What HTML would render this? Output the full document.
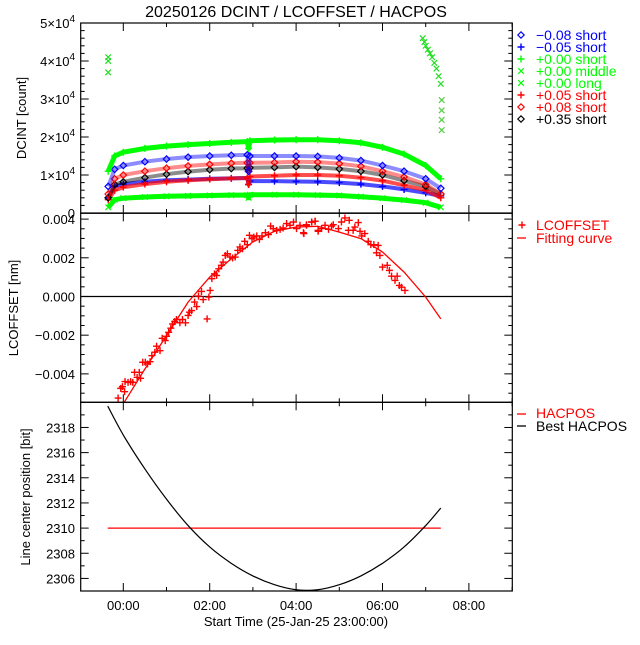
<!DOCTYPE html>
<html><head><meta charset="utf-8"><style>
html,body{margin:0;padding:0;background:#fff}
svg text{font-family:"Liberation Sans",sans-serif}
</style></head><body>
<svg id="c" width="640" height="640" viewBox="0 0 640 640" xmlns="http://www.w3.org/2000/svg">
<rect width="640" height="640" fill="#fff"/>
<text x="296" y="17" font-size="16" text-anchor="middle">20250126 DCINT / LCOFFSET / HACPOS</text>
<g id="g"></g>
</svg>
<script>
// ---- shared time axis ----
const xTickLabels = ["00:00","02:00","04:00","06:00","08:00"];
const xTickHours = [0,2,4,6,8];
// ---- panel 1: DCINT ----
const dcTimes = [-0.35,-0.2,0,0.5,1,1.5,2,2.5,2.87,2.9,2.93,3.5,4,4.5,5,5.5,6,6.5,7,7.35];
const dcBlueDiamond = [7000,11500,12500,13500,14200,14700,15000,15200,15300,11000,15000,15000,15000,14900,14500,13800,12500,11000,9000,6500];
const dcBluePlus = [4000,7000,7600,8200,8600,8800,9000,9100,9200,7500,8400,8400,8300,8200,8000,7600,7000,6200,5300,4500];
const dcGreenShort = [11000,15000,16000,17000,17600,18000,18300,18600,18800,17000,19000,19200,19300,19300,19000,18500,17300,15500,12500,9000];
const dcGreenLong = [1500,3500,3900,4200,4400,4500,4600,4700,4700,4000,4800,4800,4800,4700,4600,4300,3900,3400,2700,1500];
const dcRedPlus = [3500,6000,6800,7600,8200,8600,8900,9100,9200,7500,9600,9800,10000,10000,9800,9300,8500,7300,6000,4000];
const dcRedDiamond = [5000,9000,10000,11000,11800,12400,12800,13100,13200,11000,13200,13300,13500,13400,13000,12300,11000,9500,7500,5000];
const dcBlackDiamond = [4000,7500,8200,9300,10200,10900,11400,11700,11800,11000,11900,12000,12200,12000,11600,11000,10000,8500,7000,5000];
const midTimes = [-0.35,-0.35,-0.35,6.93,6.97,7.0,7.05,7.1,7.15,7.2,7.25,7.3,7.35];
const midValues = [41000,40000,37000,46000,45000,44000,43000,42000,41000,39500,38000,36000,34000];
const longTimes = [7.37,7.37,7.37,7.37];
const longValues = [29700,27000,24500,21800];
const dcTickValues = [0,1,2,3,4,5];
// ---- panel 2: LCOFFSET ----
const lcTimes = [-0.12,-0.06,-0.02,0.03,0.04,0.11,0.17,0.22,0.26,0.32,0.37,0.40,0.45,0.51,0.56,0.62,0.66,0.73,0.77,0.85,0.90,0.97,1.0,1.05,1.10,1.14,1.19,1.23,1.31,1.37,1.44,1.50,1.53,1.58,1.65,1.70,1.74,1.81,1.85,1.94,1.98,2.01,2.05,2.11,2.16,2.21,2.27,2.31,2.36,2.41,2.47,2.53,2.59,2.65,2.70,2.76,2.81,2.87,2.92,2.98,3.02,3.09,3.15,3.21,3.29,3.36,3.41,3.47,3.55,3.63,3.70,3.78,3.86,3.94,4.01,4.09,4.18,4.24,4.36,4.44,4.51,4.17,4.24,4.36,4.44,4.51,4.59,4.67,4.75,4.82,4.86,4.98,5.05,5.13,5.23,5.21,5.32,5.36,5.44,5.48,5.52,5.59,5.67,5.73,5.80,5.90,5.86,5.94,6.0,6.11,6.16,6.21,6.29,6.34,6.39,6.44,6.52];
const lcValues = [-5.25,-4.75,-4.66,-4.92,-4.40,-4.44,-4.40,-4.44,-3.92,-4.18,-3.92,-4.23,-3.40,-3.40,-3.49,-3.37,-3.06,-2.88,-2.57,-2.80,-2.16,-2.28,-2.06,-1.85,-1.64,-1.42,-1.30,-1.19,-1.36,-1.19,-1.36,-0.98,-0.81,-0.73,-0.29,-0.52,0.02,0.26,-0.16,-1.16,-0.03,0.31,0.92,1.17,1.09,1.43,1.61,1.78,2.12,2.21,2.04,1.99,2.04,2.38,2.56,2.47,2.85,2.68,3.16,2.99,3.07,3.13,2.95,3.13,3.30,3.20,3.64,3.51,3.42,3.47,3.54,3.77,3.68,3.85,3.51,3.68,3.25,3.71,3.85,3.89,3.37,3.30,3.68,3.85,3.89,3.42,3.51,3.68,3.47,3.64,3.71,3.51,3.85,4.06,3.94,3.42,3.42,3.59,3.82,3.37,3.13,3.25,2.85,2.68,2.68,2.64,2.26,2.12,1.52,1.61,1.35,1.05,0.83,1.05,0.57,0.48,0.31];
const fitTimes = [0.02,0.5,1.0,1.5,2.0,2.5,3.0,3.5,4.0,4.5,5.0,5.5,6.0,6.5,7.0,7.35];
const fitValues = [-5.47,-3.75,-2.02,-0.29,1.0,1.95,2.82,3.37,3.59,3.63,3.33,2.99,2.30,1.26,-0.03,-1.16];
const lcTickValues = [-4,-2,0,2,4];
const lcTickLabels = ["\u22120.004","\u22120.002","0.000","0.002","0.004"];
// ---- panel 3: HACPOS ----
const hacTimes = [-0.36,7.35];
const hacValues = [2310,2310];
const bestTimes = [-0.36,0,0.5,1,1.5,2,2.5,3,3.5,4,4.5,5,5.5,6,6.5,7,7.35];
const bestValues = [2319.7,2317.4,2314.7,2312.3,2310.2,2308.5,2307.2,2306.2,2305.5,2305.1,2305.1,2305.5,2306.2,2307.2,2308.5,2310.2,2311.6];
const hpTickValues = [2306,2308,2310,2312,2314,2316,2318];

const NS="http://www.w3.org/2000/svg";
const G=document.getElementById('g');
function mk(tag,attrs,parent){const e=document.createElementNS(NS,tag);for(const k in attrs)e.setAttribute(k,attrs[k]);(parent||G).appendChild(e);return e;}
const L=80.7,R=512.3;
const xS=t=>123.3+t*43.2;
const P1={top:23,bot:213,min:0,max:50000};
const P2={top:213.3,bot:402.3,min:-5.47,max:4.3};
const P3={top:402.3,bot:591,min:2305,max:2320};
const yS=(p,v)=>p.bot-(v-p.min)/(p.max-p.min)*(p.bot-p.top);

function frame(p,name,minorStep,majorVals){
  const g=mk('g',{});
  
  
  mk('rect',{x:L,y:p.top,width:R-L,height:p.bot-p.top,fill:'none',stroke:'#000','stroke-width':1.2},g);
  for(let h=-1;h<=9;h++){
    const x=xS(h); if(x<L||x>R) continue;
    const len=(h%2===0)?8:4;
    mk('line',{x1:x,y1:p.bot,x2:x,y2:p.bot-len,stroke:'#000'},g);
    mk('line',{x1:x,y1:p.top,x2:x,y2:p.top+len,stroke:'#000'},g);
  }
  for(let v=Math.ceil(p.min/minorStep)*minorStep; v<=p.max+1e-9; v+=minorStep){
    const y=yS(p,v); if(y<p.top-0.1||y>p.bot+0.1) continue;
    const maj=majorVals.some(m=>Math.abs(m-v)<minorStep/10);
    const len=maj?8:4;
    mk('line',{x1:L,y1:y,x2:L+len,y2:y,stroke:'#000'},g);
    mk('line',{x1:R,y1:y,x2:R-len,y2:y,stroke:'#000'},g);
  }
  return g;
}
function marker(kind,x,y,color,parent){
  let e;
  if(kind==='diamond') e=mk('path',{d:`M${x-3.2},${y}L${x},${y-3.2}L${x+3.2},${y}L${x},${y+3.2}Z`,fill:'none',stroke:color,'stroke-width':1.2},parent);
  else if(kind==='plus') e=mk('path',{d:`M${x-3.5},${y}H${x+3.5}M${x},${y-3.5}V${y+3.5}`,stroke:color,'stroke-width':1.4},parent);
  else e=mk('path',{d:`M${x-2.8},${y-2.8}L${x+2.8},${y+2.8}M${x+2.8},${y-2.8}L${x-2.8},${y+2.8}`,stroke:color,'stroke-width':1.2},parent);
  
  
  return e;
}
// ---------- Panel 1 ----------
frame(P1,'dcint',2000,[0,10000,20000,30000,40000,50000]);
dcTickValues.forEach(v=>{
  const y=yS(P1,v*10000);
  const t=mk('text',{x:75,y:y+5,'font-size':13,'text-anchor':'end'});
  
  
  if(v===0){t.textContent='0';}
  else{t.textContent=v+'\u00d710';const s=mk('tspan',{dy:-6,'font-size':10},t);s.textContent='4';}
});
const yt1=mk('text',{x:0,y:0,'font-size':13,'text-anchor':'middle',transform:'translate(26,118) rotate(-90)'});


yt1.textContent='DCINT [count]';
const series=[
  {name:'series-green-long',vals:dcGreenLong,color:'#00ff00',kind:'x',w:5,o:1},
  {name:'series-blue-plus',vals:dcBluePlus,color:'#0000ff',kind:'plus',w:4,o:0.7},
  {name:'series-red-plus',vals:dcRedPlus,color:'#ff0000',kind:'plus',w:4,o:0.7},
  {name:'series-black-diamond',vals:dcBlackDiamond,color:'#000000',kind:'diamond',w:4,o:0.45},
  {name:'series-red-diamond',vals:dcRedDiamond,color:'#ff0000',kind:'diamond',w:4,o:0.45},
  {name:'series-blue-diamond',vals:dcBlueDiamond,color:'#0000ff',kind:'diamond',w:4,o:0.45},
  {name:'series-green-short',vals:dcGreenShort,color:'#00ff00',kind:'plus',w:5,o:1}
];
series.forEach(s=>{
  const g=mk('g',{});
  
  
  const pts=dcTimes.map((t,i)=>xS(t).toFixed(1)+','+yS(P1,s.vals[i]).toFixed(1)).join(' ');
  const pl=mk('polyline',{points:pts,fill:'none',stroke:s.color,'stroke-width':s.w,'stroke-opacity':s.o,'stroke-linejoin':'round'},g);
  
  
  dcTimes.forEach((t,i)=>marker(s.kind,xS(t),yS(P1,s.vals[i]),s.color,g));
});
const gm=mk('g',{});


midTimes.forEach((t,i)=>marker('x',xS(t),yS(P1,midValues[i]),'#22dd22',gm));
const gl=mk('g',{});


longTimes.forEach((t,i)=>marker('x',xS(t),yS(P1,longValues[i]),'#55cc44',gl));
const leg1=[['diamond','#0000ff','\u22120.08 short'],['plus','#0000ff','\u22120.05 short'],['plus','#00ff00','+0.00 short'],['x','#00ff00','+0.00 middle'],['x','#00ff00','+0.00 long'],['plus','#ff0000','+0.05 short'],['diamond','#ff0000','+0.08 short'],['diamond','#000000','+0.35 short']];
leg1.forEach((l,i)=>{
  const y=35+i*12;
  const g=mk('g',{});
  
  
  marker(l[0],521,y,l[1],g);
  const t=mk('text',{x:536,y:y+5,'font-size':14,fill:l[1]},g);
  t.textContent=l[2];
});
// ---------- Panel 2 ----------
frame(P2,'lcoffset',0.5,[-4,-2,0,2,4]);
lcTickValues.forEach((v,i)=>{
  const t=mk('text',{x:75,y:yS(P2,v)+5,'font-size':13,'text-anchor':'end'});
  
  
  t.textContent=lcTickLabels[i];
});
const yt2=mk('text',{x:0,y:0,'font-size':13,'text-anchor':'middle',transform:'translate(18,308) rotate(-90)'});


yt2.textContent='LCOFFSET [nm]';
const zl=mk('line',{x1:L,x2:R,y1:yS(P2,0),y2:yS(P2,0),stroke:'#000','stroke-width':1.2});


const fit=mk('polyline',{points:fitTimes.map((t,i)=>xS(t).toFixed(1)+','+yS(P2,fitValues[i]).toFixed(1)).join(' '),fill:'none',stroke:'#ff0000','stroke-width':1.3});


const gp=mk('g',{});


lcTimes.forEach((t,i)=>marker('plus',xS(t),yS(P2,lcValues[i]),'#ff0000',gp));
const l2a=mk('g',{});


marker('plus',522,225,'#ff0000',l2a);
mk('text',{x:536,y:230,'font-size':14,fill:'#ff0000'},l2a).textContent='LCOFFSET';
const l2b=mk('g',{});


mk('line',{x1:517,x2:526,y1:238,y2:238,stroke:'#ff0000','stroke-width':1.3},l2b);
mk('text',{x:536,y:243,'font-size':14,fill:'#ff0000'},l2b).textContent='Fitting curve';
// ---------- Panel 3 ----------
frame(P3,'hacpos',1,hpTickValues);
hpTickValues.forEach(v=>{
  const t=mk('text',{x:75,y:yS(P3,v)+5,'font-size':13,'text-anchor':'end'});
  
  
  t.textContent=String(v);
});
const yt3=mk('text',{x:0,y:0,'font-size':13,'text-anchor':'middle',transform:'translate(30,497) rotate(-90)'});


yt3.textContent='Line center position [bit]';
const hl=mk('polyline',{points:hacTimes.map((t,i)=>xS(t)+','+yS(P3,hacValues[i])).join(' '),fill:'none',stroke:'#ff0000','stroke-width':1.3});


const bl=mk('path',{fill:'none',stroke:'#000','stroke-width':1.2});


{
  const P=bestTimes.map((t,i)=>[xS(t),yS(P3,bestValues[i])]);
  let d='M'+P[0][0]+','+P[0][1];
  for(let i=0;i<P.length-1;i++){
    const p0=P[Math.max(0,i-1)],p1=P[i],p2=P[i+1],p3=P[Math.min(P.length-1,i+2)];
    d+=`C${p1[0]+(p2[0]-p0[0])/6},${p1[1]+(p2[1]-p0[1])/6} ${p2[0]-(p3[0]-p1[0])/6},${p2[1]-(p3[1]-p1[1])/6} ${p2[0]},${p2[1]}`;
  }
  bl.setAttribute('d',d);
}
const l3a=mk('g',{});


mk('line',{x1:517,x2:526,y1:414,y2:414,stroke:'#ff0000','stroke-width':1.3},l3a);
mk('text',{x:536,y:418,'font-size':14,fill:'#ff0000'},l3a).textContent='HACPOS';
const l3b=mk('g',{});


mk('line',{x1:517,x2:526,y1:426,y2:426,stroke:'#000','stroke-width':1.3},l3b);
mk('text',{x:536,y:431,'font-size':14,fill:'#000'},l3b).textContent='Best HACPOS';
xTickHours.forEach((h,i)=>{
  const t=mk('text',{x:xS(h),y:610,'font-size':13,'text-anchor':'middle'});
  
  
  t.textContent=xTickLabels[i];
});
const xt=mk('text',{x:296,y:626,'font-size':13,'text-anchor':'middle'});


xt.textContent='Start Time (25-Jan-25 23:00:00)';
</script>
</body></html>
